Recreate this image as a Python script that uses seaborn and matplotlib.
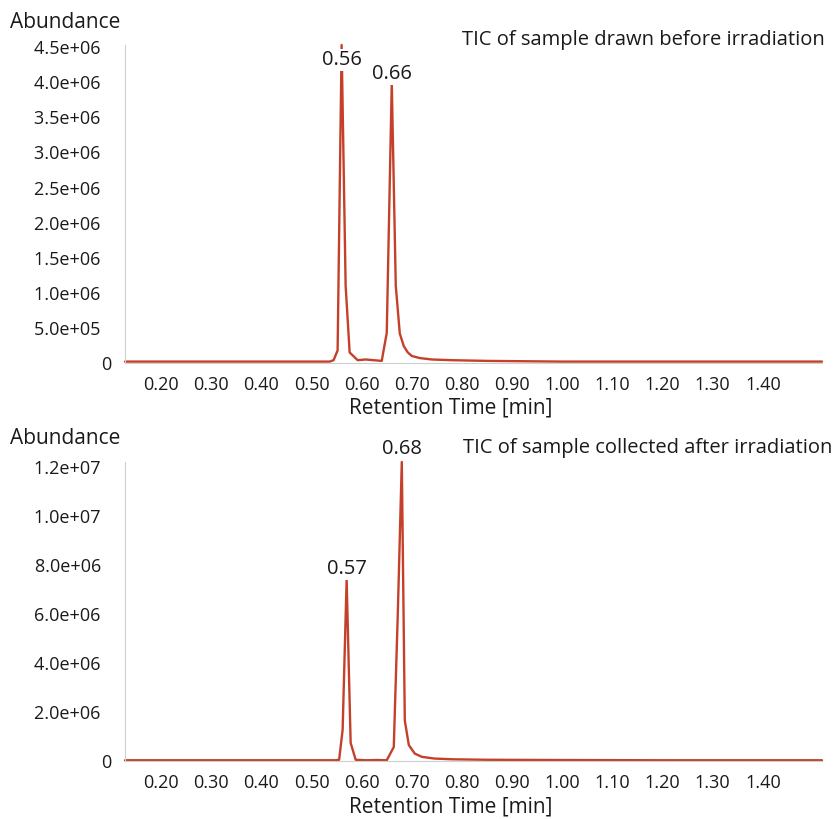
import matplotlib
matplotlib.use("Agg")
import matplotlib.pyplot as plt
import matplotlib.ticker as mticker
import numpy as np
import pandas as pd
import seaborn as sns

# Total ion chromatograms (retention time in min, abundance in counts)
before_time = [0.128, 0.30, 0.45, 0.536, 0.544, 0.552, 0.56, 0.568, 0.576, 0.592,
               0.608, 0.624, 0.640, 0.650, 0.66, 0.668, 0.676, 0.684, 0.692, 0.700,
               0.716, 0.740, 0.780, 0.850, 1.000, 1.200, 1.518]
before_abund = [0.02e6, 0.02e6, 0.02e6, 0.02e6, 0.04e6, 0.18e6, 4.53e6, 1.10e6, 0.15e6, 0.04e6,
                0.05e6, 0.04e6, 0.03e6, 0.43e6, 3.99e6, 1.10e6, 0.42e6, 0.24e6, 0.15e6, 0.10e6,
                0.07e6, 0.05e6, 0.04e6, 0.03e6, 0.02e6, 0.02e6, 0.02e6]

after_time = [0.128, 0.30, 0.45, 0.547, 0.555, 0.562, 0.57, 0.578, 0.588, 0.610,
              0.630, 0.650, 0.664, 0.672, 0.68, 0.686, 0.694, 0.706, 0.720, 0.745,
              0.780, 0.850, 1.000, 1.200, 1.518]
after_abund = [0.03e6, 0.03e6, 0.03e6, 0.03e6, 0.05e6, 1.27e6, 7.40e6, 0.74e6, 0.05e6, 0.03e6,
               0.04e6, 0.03e6, 0.57e6, 6.00e6, 12.20e6, 1.65e6, 0.65e6, 0.30e6, 0.17e6, 0.10e6,
               0.07e6, 0.05e6, 0.04e6, 0.03e6, 0.03e6]

peak_labels_before = [0.56, 0.66]
peak_label_y_before = [4.32e6, 4.12e6]
peak_labels_after = [0.57, 0.68]
peak_label_y_after = [7.83e6, 12.75e6]

titles = ["TIC of sample drawn before irradiation",
          "TIC of sample collected after irradiation"]
x_ticks = [0.20, 0.30, 0.40, 0.50, 0.60, 0.70, 0.80, 0.90, 1.00, 1.10, 1.20, 1.30, 1.40]
y_ticks_before = [0, 0.5e6, 1.0e6, 1.5e6, 2.0e6, 2.5e6, 3.0e6, 3.5e6, 4.0e6, 4.5e6]
y_ticks_after = [0, 2.0e6, 4.0e6, 6.0e6, 8.0e6, 10.0e6, 12.0e6]

sns.set_style("white")
plt.rcParams["font.family"] = ["Open Sans", "DejaVu Sans"]

LINE = "#c4402a"
AXIS = "#cfcfcf"
TXT = "#1a1a1a"
W, H = 836, 819
fig = plt.figure(figsize=(W / 100, H / 100), dpi=100)


def px_axes(left, top, right, bottom):
    return fig.add_axes([left / W, 1 - bottom / H, (right - left) / W, (bottom - top) / H])


def fmt(v, pos):
    # exponent labels sit a little further from the axis than the zero label
    return "0" if v == 0 else f"{v:.1e}\u2007"


def panel(ax, t, a, ylim, yticks, yminor, labels, label_y, title, xl_y, ab_y, ti_y, ti_x):
    df = pd.DataFrame({"Retention Time [min]": t, "Abundance": a})
    sns.lineplot(data=df, x="Retention Time [min]", y="Abundance", ax=ax,
                 color=LINE, lw=1.7, clip_on=False, zorder=2)
    ax.set_xlim(0.128, 1.518)
    ax.set_ylim(0, ylim)
    ax.set_xticks(x_ticks)
    ax.xaxis.set_major_formatter(mticker.FormatStrFormatter("%.2f"))
    ax.xaxis.set_minor_locator(mticker.MultipleLocator(0.02))
    ax.set_yticks(yticks)
    ax.yaxis.set_major_formatter(mticker.FuncFormatter(fmt))
    ax.yaxis.set_minor_locator(mticker.MultipleLocator(yminor))
    for s in ["top", "right"]:
        ax.spines[s].set_visible(False)
    for s in ["left", "bottom"]:
        ax.spines[s].set_color(AXIS)
        ax.spines[s].set_linewidth(0.8)
    ax.tick_params(axis="both", which="both", color=AXIS, width=0.8, labelsize=13,
                   labelcolor=TXT)
    ax.tick_params(axis="both", which="major", length=4, pad=5)
    ax.tick_params(axis="both", which="minor", length=2.5)
    ax.tick_params(axis="y", which="major", pad=6)
    ax.set_xlabel("")
    ax.set_ylabel("")
    ax.set_facecolor("white")
    for x, y in zip(labels, label_y):
        ax.text(x, y, f"{x:.2f}", ha="center", va="center", fontsize=14.5, color=TXT,
                zorder=3, clip_on=False,
                bbox=dict(boxstyle="square,pad=0.05", fc="white", ec="none"))
    fig.text(451 / W, 1 - xl_y / H, "Retention Time [min]", ha="center", va="center",
             fontsize=15, color=TXT)
    fig.text(10 / W, 1 - ab_y / H, "Abundance", ha="left", va="center",
             fontsize=15, color=TXT)
    fig.text(ti_x / W, 1 - ti_y / H, title, ha="right", va="center",
             fontsize=14.5, color=TXT)


ax1 = px_axes(125, 45, 822, 363)
panel(ax1, before_time, before_abund, 4.53e6, y_ticks_before, 0.1e6,
      peak_labels_before, peak_label_y_before, titles[0], 408, 22, 40, 825)

ax2 = px_axes(125, 462, 822, 761)
panel(ax2, after_time, after_abund, 12.2e6, y_ticks_after, 0.4e6,
      peak_labels_after, peak_label_y_after, titles[1], 807, 439, 448, 832)

fig.savefig("out.png", dpi=100, facecolor="white")
